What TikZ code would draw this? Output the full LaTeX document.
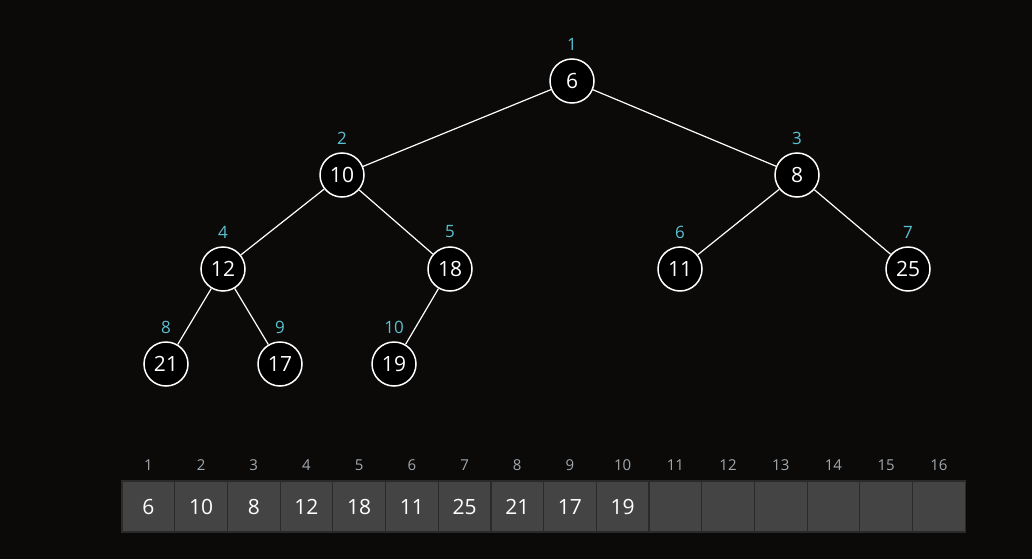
\documentclass[tikz,border=0pt]{standalone}
\usepackage{fontspec}
\setmainfont{Open Sans}
\definecolor{bg}{HTML}{0C0A08}
\definecolor{idx}{HTML}{5BC0D0}
\definecolor{cellfill}{HTML}{444444}
\definecolor{cellline}{HTML}{2A2A2A}
\definecolor{aidx}{HTML}{A0A8B0}
\begin{document}
\begin{tikzpicture}[x=1pt,y=-1pt,
  hnode/.style={circle,draw=white,line width=1.5pt,fill=black,minimum size=44pt,inner sep=0pt,text=white,font=\fontsize{21}{21}\selectfont},
  hlabel/.style={text=idx,font=\fontsize{17}{17}\selectfont,inner sep=0pt},
  edge/.style={draw=white,line width=1.2pt},
  cell/.style={draw=cellline,line width=1.2pt,fill=cellfill,minimum width=52.7pt,minimum height=51pt,inner sep=0pt,text=white,font=\fontsize{21}{21}\selectfont},
  alabel/.style={text=aidx,font=\fontsize{15}{15}\selectfont,inner sep=0pt}]
\fill[bg] (0,0) rectangle (1032,559);
\useasboundingbox (0,0) rectangle (1032,559);
% tree nodes
\node[hnode] (n1) at (572,81) {6};
\node[hnode] (n2) at (342,175) {10};
\node[hnode] (n3) at (797,175) {8};
\node[hnode] (n4) at (223,269) {12};
\node[hnode] (n5) at (450,269) {18};
\node[hnode] (n6) at (680,269) {11};
\node[hnode] (n7) at (908,269) {25};
\node[hnode] (n8) at (166,364) {21};
\node[hnode] (n9) at (280,364) {17};
\node[hnode] (n10) at (394,364) {19};
% labels
\foreach \i in {1,...,10} {\node[hlabel] (l\i) at ([yshift=37pt]n\i.center) {\i};}
% edges
\draw[edge] (n1) -- (n2);
\draw[edge] (n1) -- (n3);
\draw[edge] (n2) -- (n4);
\draw[edge] (n2) -- (n5);
\draw[edge] (n3) -- (n6);
\draw[edge] (n3) -- (n7);
\draw[edge] (n4) -- (n8);
\draw[edge] (n4) -- (n9);
\draw[edge] (n5) -- (n10);
% array
\foreach \v [count=\i] in {6,10,8,12,18,11,25,21,17,19,{},{},{},{},{},{}} {
  \node[cell] (c\i) at ({122+52.7*(\i-0.5)},506.5) {\v};
  \node[alabel] (a\i) at ({122+52.7*(\i-0.5)},465) {\i};
}
\end{tikzpicture}
\end{document}
